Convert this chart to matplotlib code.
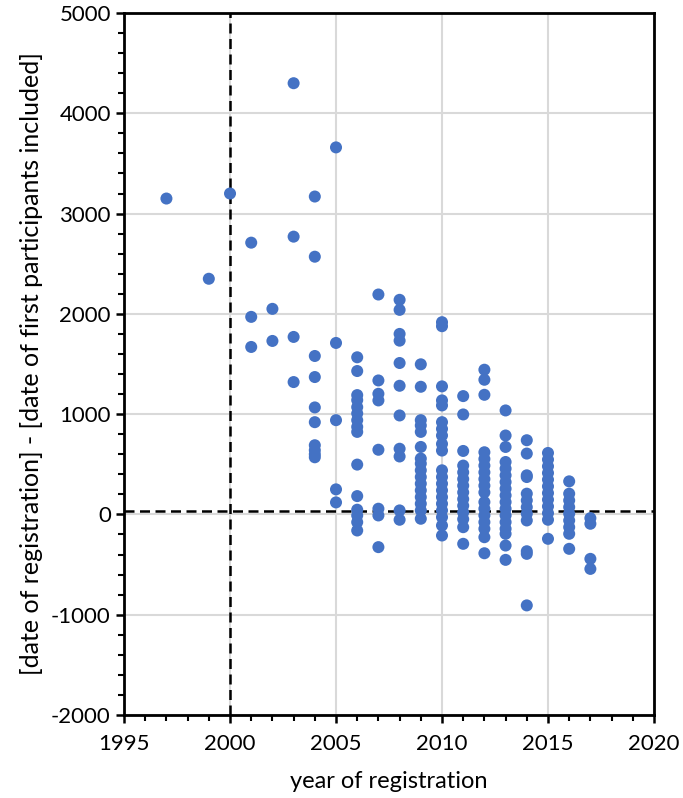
import numpy as np
import matplotlib.pyplot as plt
from matplotlib.ticker import MultipleLocator

# values, grouped by year of registration
year_values = {
    1997: [3150],
    1999: [2350],
    2000: [3200],
    2001: [2710, 1970, 1670],
    2002: [2050, 1730],
    2003: [4300, 2770, 1770, 1320],
    2004: [3170, 2570, 1580, 1370, 1067, 920, 690, 640, 600, 570],
    2005: [3660, 1710, 940, 250, 120],
    2006: [1567, 1430, 1190, 1140, 1070, 1007, 940, 873, 823, 497, 183, 47, -10, -77, -160],
    2007: [2193, 1336, 1203, 1137, 645, 57, -10, -326],
    2008: [2140, 2040, 1800, 1733, 1510, 1283, 987, 655, 578, 40, -53],
    2009: [1497, 1273, 940, 887, 823, 673, 557, 507, 440, 373, 307, 240, 173, 107, 40, -43],
    2010: [1917, 1877, 1277, 1137, 1087, 920, 853, 787, 703, 637, 440, 373, 307, 240, 173, 107,
           40, -27, -110, -210],
    2011: [1180, 997, 633, 487, 420, 353, 287, 220, 153, 87, 20, -47, -127, -293],
    2012: [1443, 1343, 1193, 620, 553, 487, 420, 353, 287, 220, 123, 57, -10, -77, -143, -227, -387],
    2013: [1037, 787, 673, 523, 457, 390, 323, 257, 190, 123, 57, -10, -77, -143, -193, -310, -453],
    2014: [740, 607, 390, 373, 207, 140, 73, 7, -60, -367, -393, -907],
    2015: [613, 547, 480, 413, 347, 280, 213, 147, 80, 13, -53, -243],
    2016: [330, 207, 140, 73, 7, -60, -127, -193, -343],
    2017: [-37, -93, -443, -543],
}
x_data = [yr for yr, vals in year_values.items() for _ in vals]
y_data = [v for vals in year_values.values() for v in vals]

ref_year = 2000
ref_value = 35

plt.rcParams['font.family'] = ['Lato', 'DejaVu Sans']
plt.rcParams['axes.unicode_minus'] = False

fig = plt.figure(figsize=(6.83, 7.98), dpi=100)
ax = fig.add_axes([0.1816, 0.104, 0.7759, 0.8797])

ax.grid(True, color='#d9d9d9', linewidth=1.5, zorder=0)
ax.set_axisbelow(True)

ax.scatter(x_data, y_data, s=75, color='#4472C4', edgecolors='none', zorder=3)

ax.axvline(ref_year, color='black', linestyle=(0, (4, 2.2)), linewidth=1.8, zorder=2)
ax.axhline(ref_value, color='black', linestyle=(0, (4, 2.2)), linewidth=1.8, zorder=2)

ax.set_xlim(1995, 2020)
ax.set_ylim(-2000, 5000)
ax.xaxis.set_major_locator(MultipleLocator(5))
ax.xaxis.set_minor_locator(MultipleLocator(1))
ax.yaxis.set_major_locator(MultipleLocator(1000))
ax.yaxis.set_minor_locator(MultipleLocator(200))

for sp in ax.spines.values():
    sp.set_linewidth(2)
ax.tick_params(which='major', direction='out', length=6, width=1.8, labelsize=16)
ax.tick_params(axis='x', which='major', pad=8)
ax.tick_params(which='minor', direction='out', length=4, width=1.5)

ax.set_xlabel('year of registration', fontsize=17, labelpad=12)
ax.set_ylabel('[date of registration] - [date of first participants included]', fontsize=18, labelpad=6)

plt.savefig('out.png', dpi=100)
